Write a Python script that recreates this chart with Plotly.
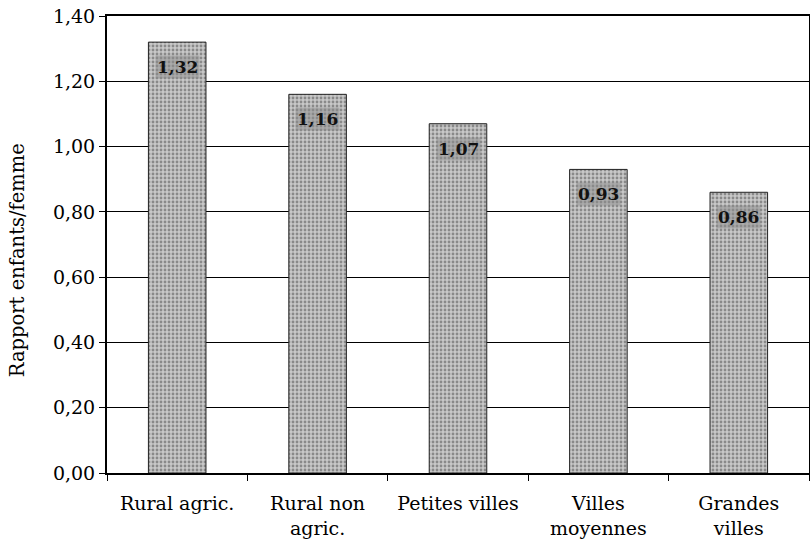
import plotly.graph_objects as go

categories = ["Rural agric.", "Rural non<br>agric.", "Petites villes", "Villes<br>moyennes", "Grandes<br>villes"]
values = [1.32, 1.16, 1.07, 0.93, 0.86]
labels = ["1,32", "1,16", "1,07", "0,93", "0,86"]
y_title = "Rapport enfants/femme"

font_family = "DejaVu Serif"

fig = go.Figure()
fig.add_trace(go.Bar(
    x=categories, y=values, width=0.41,
    marker=dict(
        color="#c4c4c4",
        line=dict(color="#222", width=1),
        pattern=dict(shape=".", fgcolor="#4a4a4a", bgcolor="#c8c8c8", size=4, solidity=0.4),
    ),
    hoverinfo="skip",
))

for c, v, t in zip(categories, values, labels):
    fig.add_annotation(x=c, y=v, text="<b>" + t + "</b>", showarrow=False, yshift=-25,
                       font=dict(family=font_family, size=17, color="#111"),
                       bgcolor="rgba(140,140,140,0.5)", borderpad=1)

fig.add_annotation(xref="paper", yref="paper", x=-0.128, y=0.466, text=y_title,
                   textangle=-90, showarrow=False, xanchor="center", yanchor="middle",
                   font=dict(family=font_family, size=19.5, color="black"))

fig.update_layout(
    width=810, height=548,
    margin=dict(l=107, r=1, t=16, b=75),
    paper_bgcolor="white", plot_bgcolor="white",
    separators=", ",
    showlegend=False,
    font=dict(family=font_family, size=17, color="black"),
    bargap=0.59,
)
fig.update_yaxes(
    range=[0, 1.4], dtick=0.2, tickformat=".2f",
    showgrid=True, gridcolor="black", gridwidth=1,
    showline=True, linecolor="black", linewidth=2, mirror=True,
    ticks="outside", ticklen=6, tickcolor="black",
    zeroline=False, automargin=False,
    tickfont=dict(size=19),
)
fig.update_xaxes(
    showline=True, linecolor="black", linewidth=2, mirror=True,
    ticks="outside", ticklen=6, tickcolor="black", tickson="boundaries",
    tickfont=dict(size=19), automargin=False, ticklabelstandoff=12,
)

fig.write_html("out.html", config={"displayModeBar": False},
               post_script="document.body.style.margin='0';")
